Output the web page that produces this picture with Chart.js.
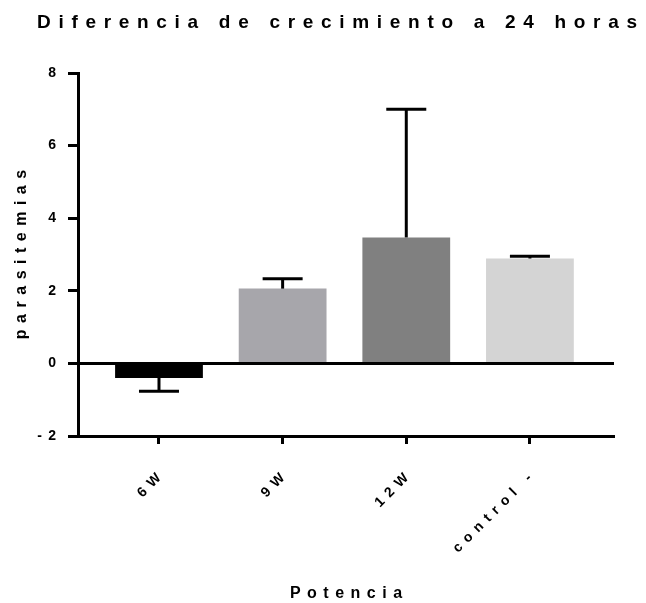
<!DOCTYPE html>
<html>
<head>
<meta charset="utf-8">
<script src="https://cdn.jsdelivr.net/npm/chart.js@4/dist/chart.umd.min.js"></script>
<style>
html,body{margin:0;padding:0;background:#fff;}
canvas{display:block;}
</style>
</head>
<body>
<canvas id="c" width="646" height="603"></canvas>
<script>
// ---- data ----
const categories = ['6W', '9W', '12W', 'control -'];
const values = [-0.40, 2.06, 3.47, 2.89];
const errorEnds = [-0.77, 2.33, 7.00, 2.95];
const barColors = ['#000000', '#a7a6ab', '#808080', '#d4d4d4'];
const yTicks = [-2, 0, 2, 4, 6, 8];

// wide letter spacing like the original (depends on font size)
(function () {
  const proto = CanvasRenderingContext2D.prototype;
  if (!('letterSpacing' in proto)) return;
  const table = { 14: 6.2, 16: 6.5, 19: 7.7 };
  function apply(ctx) {
    const m = /(\d+(?:\.\d+)?)px/.exec(ctx.font);
    let sp = 0;
    if (m) {
      const s = parseFloat(m[1]);
      sp = table[s] !== undefined ? table[s] : s * 0.4;
    }
    ctx.letterSpacing = sp + 'px';
    return sp;
  }
  const ft = proto.fillText;
  proto.fillText = function (text, x, y, maxW) {
    const sp = apply(this);
    // compensate the trailing spacing so alignment stays visually exact
    if (this.textAlign === 'right' || this.textAlign === 'end') x += sp;
    else if (this.textAlign === 'center') x += sp / 2;
    return maxW === undefined ? ft.call(this, text, x, y) : ft.call(this, text, x, y, maxW);
  };
  const mt = proto.measureText;
  proto.measureText = function () { apply(this); return mt.apply(this, arguments); };
})();

const errorBars = {
  id: 'errorBars',
  afterDatasetsDraw(chart) {
    const ctx = chart.ctx;
    const xs = chart.scales.x, ys = chart.scales.y;
    ctx.save();
    ctx.strokeStyle = '#000';
    ctx.lineWidth = 3;
    ctx.lineCap = 'butt';
    errorEnds.forEach((e, i) => {
      const x = xs.getPixelForValue(i);
      const y0 = ys.getPixelForValue(values[i]);
      const y1 = ys.getPixelForValue(e);
      ctx.beginPath();
      ctx.moveTo(x, y0);
      ctx.lineTo(x, y1);
      ctx.stroke();
      ctx.beginPath();
      ctx.moveTo(x - 20, y1);
      ctx.lineTo(x + 20, y1);
      ctx.stroke();
    });
    ctx.restore();
  }
};

const FONT = "'Liberation Sans', Arial, sans-serif";

new Chart(document.getElementById('c'), {
  type: 'bar',
  data: {
    datasets: [{
      data: categories.map((c, i) => ({ x: i, y: values[i] })),
      backgroundColor: barColors,
      borderWidth: 0,
      categoryPercentage: 1,
      barPercentage: 0.71
    }]
  },
  options: {
    responsive: false,
    devicePixelRatio: 1,
    animation: false,
    layout: { padding: { left: 28, right: 0, top: 0, bottom: 0 } },
    plugins: {
      legend: { display: false },
      tooltip: { enabled: false },
      title: {
        display: true,
        text: 'Diferencia de crecimiento a 24 horas',
        color: '#000',
        fullSize: true,
        font: { family: FONT, size: 19, weight: 'bold' },
        padding: { top: 11, bottom: 39.2 }
      }
    },
    scales: {
      x: {
        type: 'linear',
        offset: false,
        min: -0.655,
        max: 3.68,
        afterBuildTicks(scale) {
          scale.ticks = categories.map((c, i) => ({ value: i }));
        },
        afterFit(scale) { scale.height = 167; },
        ticks: {
          color: '#000',
          font: { family: FONT, size: 14, weight: 'bold' },
          minRotation: 45,
          maxRotation: 45,
          padding: 26,
          callback: (v) => categories[v]
        },
        grid: {
          offset: false,
          drawOnChartArea: false,
          drawTicks: true,
          tickLength: 8,
          tickWidth: 3,
          tickColor: '#000'
        },
        border: { display: true, color: '#000', width: 3 },
        title: {
          display: true,
          text: 'Potencia',
          color: '#000',
          font: { family: FONT, size: 16, weight: 'bold' },
          padding: { top: 5, bottom: 0 }
        }
      },
      y: {
        min: -2,
        max: 8,
        afterBuildTicks(scale) {
          scale.ticks = yTicks.map(v => ({ value: v }));
        },
        afterFit(scale) { scale.width = 50; },
        ticks: {
          color: '#000',
          font: { family: FONT, size: 14, weight: 'bold' },
          padding: 12
        },
        grid: {
          drawOnChartArea: true,
          color: (c) => (c.tick && c.tick.value === 0) ? '#000' : 'rgba(0,0,0,0)',
          lineWidth: 3,
          tickLength: 10,
          tickWidth: 3,
          tickColor: '#000'
        },
        border: { display: true, color: '#000', width: 3 },
        title: {
          display: true,
          text: 'parasitemias',
          color: '#000',
          font: { family: FONT, size: 16, weight: 'bold' },
          padding: { top: -15.6, bottom: 0 }
        }
      },
      // empty right-hand margin (no marks) so the plot ends where the original does
      yRight: {
        position: 'right',
        min: -2,
        max: 8,
        display: true,
        afterFit(scale) { scale.width = 32; },
        ticks: { display: false },
        grid: { display: false, drawTicks: false },
        border: { display: false },
        title: { display: false }
      }
    }
  },
  plugins: [errorBars]
});
</script>
</body>
</html>
